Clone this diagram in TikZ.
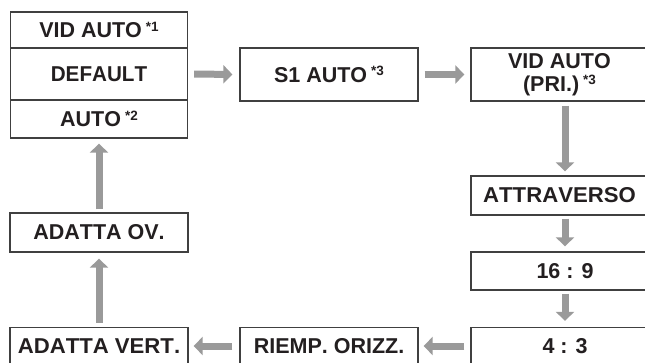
\documentclass[tikz,border=0pt]{standalone}
\usepackage{fontspec}
\setmainfont[Kerning=Off]{Liberation Sans}
\usetikzlibrary{arrows.meta}
\definecolor{boxline}{HTML}{404040}
\definecolor{txt}{HTML}{231F20}
\definecolor{arrgray}{HTML}{9A9A9A}
\newcommand{\sfn}[1]{\hspace{4pt}\raisebox{6.5pt}{\fontsize{13.5}{13.5}\selectfont #1}}
\tikzset{
  box/.style={draw=boxline, line width=1.3pt, text=txt, inner sep=0pt,
    font=\fontsize{21.5}{23}\selectfont\bfseries, align=center},
  arr/.style={draw=arrgray, line width=7pt,
    -{Triangle[width=18pt,length=9pt]}},
}
\begin{document}
\begin{tikzpicture}[x=1pt,y=-1pt]
\useasboundingbox (0,0) rectangle (645,363);
% left stacked box
\node[box, minimum width=177pt, minimum height=36pt] (vidauto) at (99,30) {VID AUTO\sfn{*1}};
\node[box, minimum width=177pt, minimum height=52pt] (default) at (99,74) {\scalebox{0.96}[1]{DEFAULT}};
\node[box, minimum width=177pt, minimum height=38pt] (auto) at (99,119) {AUTO\sfn{*2}};
% top row
\node[box, minimum width=178pt, minimum height=53pt] (s1) at (329,74.5) {S1 AUTO\sfn{*3}};
\node[box, minimum width=177pt, minimum height=53pt] (vidpri) at (559.5,74.5) {VID AUTO\\(PRI.)\sfn{*3}};
% right column
\node[box, minimum width=177pt, minimum height=39pt] (attr) at (559.5,195.5) {\scalebox{1.03}[1]{ATTRAVERSO}};
\node[box, minimum width=188pt, minimum height=38pt] (n169) at (565,271) {16 : 9};
\node[box, minimum width=188pt, minimum height=37pt] (n43) at (565,346) {4 : 3};
% bottom row
\node[box, minimum width=178pt, minimum height=37pt] (riemp) at (329,346) {RIEMP. ORIZZ.};
\node[box, minimum width=178pt, minimum height=37pt] (vert) at (99,346) {\scalebox{1.03}[1]{ADATTA VERT.}};
% left column
\node[box, minimum width=178pt, minimum height=39pt] (ov) at (99,232.5) {ADATTA OV.};
% arrows
\draw[arr, shorten <=6pt, shorten >=7pt] (default.east) -- (s1.west);
\draw[arr, shorten <=6pt, shorten >=6pt] (s1.east) -- (vidpri.west);
\draw[arr, shorten <=4pt, shorten >=4pt] ([xshift=5.5pt]vidpri.south) -- ([xshift=5.5pt]attr.north);
\draw[arr, shorten <=3pt, shorten >=5pt] ([xshift=5.5pt]attr.south) -- (n169.north);
\draw[arr, shorten <=3pt, shorten >=6pt] (n169.south) -- (n43.north);
\draw[arr, shorten <=6pt, shorten >=5pt] (n43.west |- riemp.east) -- (riemp.east);
\draw[arr, shorten <=7pt, shorten >=5pt] (riemp.west) -- (vert.east);
\draw[arr, shorten <=4pt, shorten >=6pt] (vert.north) -- (ov.south);
\draw[arr, shorten <=3pt, shorten >=5pt] (ov.north) -- (auto.south);
\end{tikzpicture}
\end{document}
